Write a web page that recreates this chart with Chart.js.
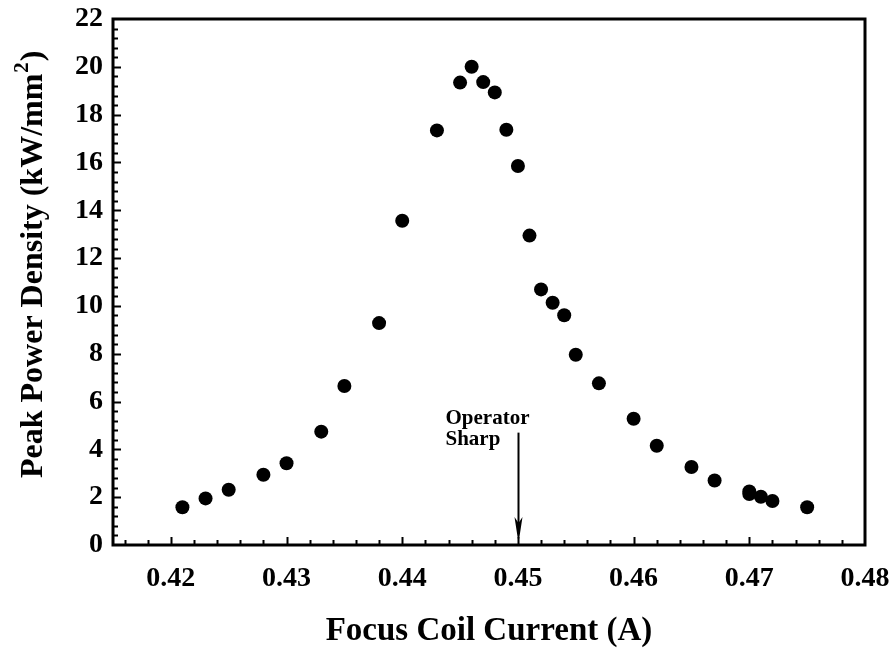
<!DOCTYPE html>
<html>
<head>
<meta charset="utf-8">
<script src="https://cdn.jsdelivr.net/npm/chart.js@4.4.1/dist/chart.umd.min.js"></script>
<style>
html, body { margin: 0; padding: 0; background: #fff; }
</style>
</head>
<body>
<canvas id="chart" width="893" height="649"></canvas>
<script>
// focus coil scan: current (A) vs peak power density (kW/mm2)
const current = [0.421, 0.423, 0.425, 0.428, 0.430, 0.433, 0.435, 0.438, 0.440, 0.443,
	0.445, 0.446, 0.447, 0.448, 0.449, 0.450, 0.451, 0.452, 0.453, 0.454,
	0.455, 0.457, 0.460, 0.462, 0.465, 0.467, 0.470, 0.470, 0.471, 0.472, 0.475]
const density = [1.58, 1.95, 2.31, 2.94, 3.42, 4.74, 6.65, 9.28, 13.56, 17.34,
	19.34, 20.0, 19.36, 18.93, 17.37, 15.85, 12.94, 10.69, 10.13, 9.61,
	7.96, 6.76, 5.28, 4.15, 3.26, 2.70, 2.24, 2.13, 2.02, 1.84, 1.58]
const xTicks = [0.42, 0.43, 0.44, 0.45, 0.46, 0.47, 0.48]
const yTicks = [0, 2, 4, 6, 8, 10, 12, 14, 16, 18, 20, 22]

// "Operator Sharp" marker
const sharpX = 0.45
const sharpTop = 4.7
const noteLines = ['Operator', 'Sharp']

const serif = '"Liberation Serif", "Times New Roman", serif'

const points = current.map((c, i) => ({ x: c, y: density[i] }))

// box around the plot, inward ticks, marker and axis titles
const decorations = {
	id: 'decorations',
	afterDatasetsDraw(chart) {
		const { ctx, chartArea: a, scales: { x, y } } = chart
		ctx.save()
		ctx.strokeStyle = '#000'
		ctx.fillStyle = '#000'

		ctx.lineWidth = 2
		ctx.beginPath()
		// x ticks every 0.002, long ones every 0.01
		for (let k = 208; k < 240; k++) {
			const px = Math.round(x.getPixelForValue(k * 0.002)) + 0.5
			const len = k % 5 === 0 ? 8 : 5
			ctx.moveTo(px, a.bottom)
			ctx.lineTo(px, a.bottom - len)
		}
		// y ticks every 0.4, long ones every 2
		for (let k = 1; k < 55; k++) {
			const py = Math.round(y.getPixelForValue(k * 0.4)) + 0.5
			const len = k % 5 === 0 ? 8 : 5
			ctx.moveTo(a.left, py)
			ctx.lineTo(a.left + len, py)
		}
		ctx.stroke()

		ctx.lineWidth = 3
		ctx.strokeRect(a.left, a.top, a.right - a.left, a.bottom - a.top)

		// arrow
		const ax = Math.round(x.getPixelForValue(sharpX)) + 0.5
		const top = y.getPixelForValue(sharpTop)
		const tip = y.getPixelForValue(0) - 2
		ctx.lineWidth = 2
		ctx.beginPath()
		ctx.moveTo(ax, top)
		ctx.lineTo(ax, tip - 10)
		ctx.stroke()
		ctx.beginPath()
		ctx.moveTo(ax, tip)
		ctx.lineTo(ax - 4, tip - 26)
		ctx.lineTo(ax, tip - 20)
		ctx.lineTo(ax + 4, tip - 26)
		ctx.closePath()
		ctx.fill()

		ctx.font = 'bold 21px ' + serif
		ctx.textAlign = 'left'
		ctx.textBaseline = 'alphabetic'
		ctx.fillText(noteLines[0], ax - 73, top - 9)
		ctx.fillText(noteLines[1], ax - 73, top + 12)

		// x title
		ctx.font = 'bold 33px ' + serif
		ctx.textAlign = 'center'
		ctx.fillText('Focus Coil Current (A)', (a.left + a.right) / 2, 640)

		// y title with superscript
		ctx.font = 'bold 32px ' + serif
		ctx.translate(42, 478)
		ctx.rotate(-Math.PI / 2)
		ctx.textAlign = 'left'
		const main = 'Peak Power Density (kW/mm'
		ctx.fillText(main, 0, 0)
		let w = ctx.measureText(main).width
		ctx.font = 'bold 21px ' + serif
		ctx.fillText('2', w + 1, -14)
		w += ctx.measureText('2').width + 2
		ctx.font = 'bold 32px ' + serif
		ctx.fillText(')', w, 0)
		ctx.restore()
	}
}

new Chart(document.getElementById('chart'), {
	type: 'scatter',
	data: {
		datasets: [{
			data: points,
			pointRadius: 7,
			pointHoverRadius: 7,
			pointBorderWidth: 0,
			pointBackgroundColor: '#000',
			borderColor: '#000'
		}]
	},
	options: {
		responsive: false,
		animation: false,
		devicePixelRatio: 1,
		layout: { padding: { left: 0, top: 19, right: 28, bottom: 0 } },
		plugins: { legend: { display: false }, tooltip: { enabled: false } },
		scales: {
			x: {
				type: 'linear',
				min: 0.415,
				max: 0.48,
				afterBuildTicks: s => { s.ticks = xTicks.map(v => ({ value: v })) },
				afterFit: s => { s.height = 104; s.paddingLeft = 0; s.paddingRight = 0 },
				grid: { display: false, drawTicks: false },
				border: { display: false },
				ticks: {
					padding: 17,
					color: '#000',
					font: { family: serif, size: 28, weight: 'bold' },
					callback: v => v.toFixed(2)
				}
			},
			y: {
				type: 'linear',
				min: 0,
				max: 22,
				afterBuildTicks: s => { s.ticks = yTicks.map(v => ({ value: v })) },
				afterFit: s => { s.width = 113; s.paddingTop = 0; s.paddingBottom = 0 },
				grid: { display: false, drawTicks: false },
				border: { display: false },
				ticks: {
					padding: 10,
					color: '#000',
					font: { family: serif, size: 28, weight: 'bold' },
					callback: v => String(v)
				}
			}
		}
	},
	plugins: [decorations]
})
</script>
</body>
</html>
